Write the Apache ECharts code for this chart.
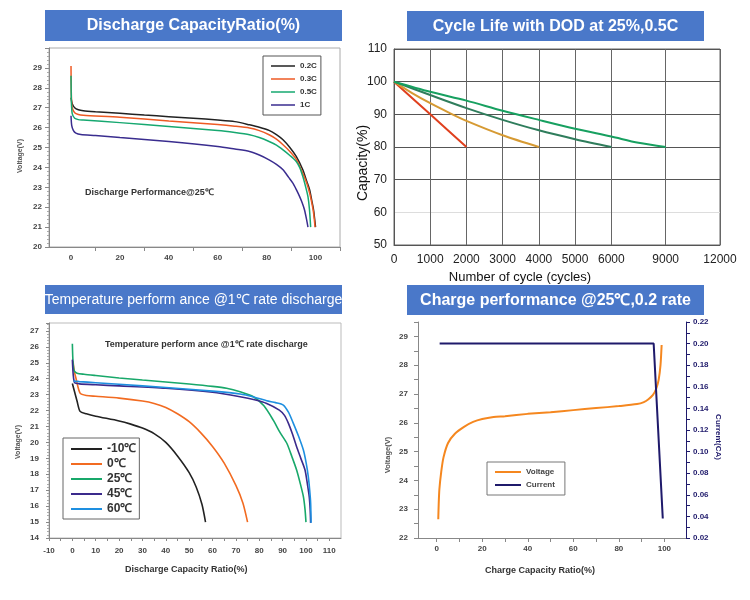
<!DOCTYPE html>
<html><head><meta charset="utf-8">
<script src="https://cdn.jsdelivr.net/npm/echarts@6/dist/echarts.min.js"></script>
<style>html,body{margin:0;padding:0;background:#fff}#c{width:750px;height:600px}</style>
</head><body><div id="c"></div>
<script>
// ---------- Panel 1: Discharge capacity ratio ----------
const dischargeRates = ['0.2C', '0.3C', '0.5C', '1C'];
const dis02 = [[0,27.5],[0.5,27.2],[1.5,27.0],[3,26.9],[5,26.85],[10,26.8],[20,26.72],[30,26.63],[40,26.55],[50,26.47],[60,26.38],[67,26.3],[73,26.14],[77,26.02],[81,25.86],[84,25.65],[86.7,25.39],[89.5,25.0],[92.1,24.55],[94.8,23.88],[96.4,23.3],[97.6,22.87],[98.5,22.3],[99.2,21.86],[100,21.0]];
const dis03 = [[0,29.1],[0.15,27.6],[0.5,27.0],[1.5,26.75],[3,26.66],[5,26.62],[20,26.52],[40,26.33],[60,26.15],[67,26.07],[73,25.98],[77,25.85],[81,25.64],[84,25.42],[86.7,25.14],[89.5,24.8],[92.1,24.41],[94.8,23.7],[96.4,23.2],[97.6,22.7],[98.5,22.2],[99.2,21.7],[99.8,21.0]];
const dis05 = [[0,28.6],[0.15,27.3],[0.5,26.7],[1.5,26.47],[3,26.4],[5,26.38],[20,26.25],[40,26.05],[60,25.85],[67,25.75],[73,25.64],[77,25.5],[81,25.3],[84,25.12],[86.7,24.88],[89.5,24.6],[92.1,24.3],[93.5,24.0],[94.8,23.54],[96.0,23.0],[96.9,22.53],[97.5,21.9],[98.0,21.0]];
const dis1 = [[0,26.6],[0.3,26.1],[1,25.85],[2,25.72],[4,25.65],[10,25.6],[20,25.5],[40,25.3],[60,25.05],[67,24.92],[73,24.8],[77,24.62],[81,24.38],[84,24.15],[86.7,23.88],[89,23.5],[90.8,23.2],[92.2,22.87],[93.5,22.53],[94.6,22.2],[95.5,21.86],[96.3,21.4],[96.9,21.0]];
const p1XLabels = [0, 20, 40, 60, 80, 100];
const p1XTicks = [10, 30, 50, 70, 90, 110];

// ---------- Panel 2: Cycle life ----------
const cycleTickLabels = [0, 1000, 2000, 3000, 4000, 5000, 6000, 9000, 12000];
const cycleA = [[0,100],[1000,90],[2000,80]];
const cycleB = [[0,100],[500,96.5],[1000,93.4],[1500,90.6],[2000,88],[3000,83.6],[4000,80]];
const cycleC = [[0,100],[1000,95.9],[2000,91.9],[3000,88.3],[4000,85.1],[5000,82.4],[6000,80]];
const cycleD = [[0,100],[1000,96.9],[2000,94.2],[3000,91.1],[4000,88.3],[5000,85.6],[6000,83.2],[7500,81.3],[9000,80]];

// ---------- Panel 3: Temperature performance ----------
const temps = ['-10℃', '0℃', '25℃', '45℃', '60℃'];
const tM10 = [[0,23.7],[1,23.15],[2,22.6],[3.3,21.95],[6,21.8],[10,21.65],[20,21.35],[25,21.15],[30,20.9],[35,20.55],[40,20.0],[45,19.15],[50,18.1],[53,17.2],[55.5,16.1],[57,15.0]];
const t0 = [[0.3,25.1],[0.8,24.5],[1.6,24.0],[3.3,23.1],[6,22.95],[10,22.9],[20,22.78],[30,22.6],[35,22.45],[40,22.2],[45,21.8],[50,21.3],[55,20.6],[60,19.75],[65,18.7],[70,17.3],[73,16.2],[75,15.0]];
const t25 = [[0,26.2],[0.3,25.0],[0.8,24.5],[2,24.35],[5,24.28],[10,24.2],[20,24.05],[30,23.92],[40,23.8],[50,23.67],[60,23.52],[66,23.4],[71.8,23.18],[77.5,22.87],[82,22.3],[86,21.4],[89,20.6],[91.8,19.95],[94,19.1],[96,18.27],[97.6,17.4],[98.9,16.6],[99.6,15.8],[100,15.0]];
const t45 = [[0,25.2],[0.4,24.2],[1,23.75],[3,23.68],[10,23.62],[20,23.55],[40,23.4],[60,23.15],[71.8,22.87],[78,22.68],[83.2,22.45],[88.6,22.03],[90.8,21.7],[92.5,21.2],[94.3,20.5],[96,19.73],[97.8,19.0],[99.6,18.27],[100.6,17.4],[101.4,16.6],[101.8,15.8],[102,14.95]];
const t60 = [[0.5,23.85],[3,23.82],[10,23.75],[20,23.65],[40,23.45],[60,23.22],[71.8,23.04],[78,22.84],[83.2,22.62],[87,22.5],[90.3,22.35],[92.5,21.9],[94.6,21.2],[96.8,20.4],[98.9,19.52],[100.1,18.7],[101,17.85],[101.6,17.0],[102,16.2],[102.2,14.95]];

// ---------- Panel 4: Charge performance ----------
const chargeNames = ['Voltage', 'Current'];
const chgVoltage = [[0.7,22.65],[0.9,23.2],[1.2,23.7],[2,24.3],[3,24.8],[5,25.3],[8,25.62],[12,25.86],[16,26.03],[20,26.13],[25,26.2],[30,26.23],[40,26.31],[50,26.37],[60,26.44],[70,26.51],[80,26.58],[88,26.65],[91,26.72],[93,26.82],[95,26.97],[96.5,27.2],[97.5,27.5],[98.3,28.0],[98.8,28.7]];
const chgCurrent = [[1.3,0.2],[95.3,0.2],[99.3,0.038]];
const p4XLabels = [0, 20, 40, 60, 80, 100];
const p4XTicks = [0, 10, 20, 30, 40, 50, 60, 70, 80, 90, 100];

// ---------- helpers ----------
const BANNER = '#4a78c9';
const FONT = '"Liberation Sans", Arial, sans-serif';
const NARROW = '"Liberation Sans Narrow", "Liberation Sans", Arial, sans-serif';
// piecewise cycle scale of the reference axis (9000 and 12000 are compressed)
const cyclePos = c => c <= 6000 ? c : 6000 + (c - 6000) / 2;
const posCycle = p => p <= 6000 ? p : 6000 + (p - 6000) * 2;
const toPos = arr => arr.map(d => [cyclePos(d[0]), d[1]]);

function ser(name, data, color, xi, yi, w, smooth) {
  return { type: 'line', name, data, xAxisIndex: xi, yAxisIndex: yi, symbol: 'none',
    smooth: smooth === undefined ? 0.25 : smooth, lineStyle: { color, width: w || 1.6 },
    itemStyle: { color }, silent: true, animation: false };
}
const smallLbl = { fontSize: 8, color: '#444', fontFamily: NARROW, fontWeight: 'bold' };
const grayAxis = { show: true, onZero: false, lineStyle: { color: '#888', width: 1 } };

function txt(x, y, text, size, opts) {
  opts = opts || {};
  return { type: 'text', x, y, rotation: opts.rot || 0, silent: true, z: 100,
    style: { text, fill: opts.color || '#333', font: (opts.weight || 'bold') + ' ' + size + 'px ' + (opts.family || NARROW),
      textAlign: opts.align || 'center', textVerticalAlign: 'middle' } };
}
function banner(x, y, w, h, text, size, weight) {
  return [
    { type: 'rect', shape: { x, y, width: w, height: h }, style: { fill: BANNER }, silent: true, z: 90 },
    txt(x + w / 2, y + h / 2 + 0.5, text, size, { color: '#fff', family: FONT, weight: weight || 'bold' })
  ];
}

const option = {
  backgroundColor: '#fff',
  animation: false,
  grid: [
    { left: 49, top: 48, width: 291, height: 199, show: true, borderColor: '#aaa', borderWidth: 1 },
    { left: 394, top: 49, width: 326, height: 196, show: true, borderColor: '#666', borderWidth: 1 },
    { left: 49, top: 323, width: 292, height: 215, show: true, borderColor: '#bbb', borderWidth: 1 },
    { left: 418, top: 322, width: 268, height: 216 }
  ],
  xAxis: [
    { gridIndex: 0, type: 'value', min: -9, max: 110, axisLine: grayAxis,
      axisTick: { customValues: p1XTicks, length: 4, lineStyle: { color: '#888' } },
      axisLabel: Object.assign({ customValues: p1XLabels, margin: 7 }, smallLbl), splitLine: { show: false } },
    { gridIndex: 1, type: 'value', min: 0, max: cyclePos(12000),
      axisLine: { onZero: false, lineStyle: { color: '#555' } },
      axisTick: { show: false, customValues: cycleTickLabels.map(cyclePos) },
      axisLabel: { customValues: cycleTickLabels.map(cyclePos), formatter: v => String(Math.round(posCycle(v))),
        fontSize: 12, color: '#222', fontFamily: FONT, margin: 9 },
      splitLine: { show: true, lineStyle: { color: '#666', width: 1 } } },
    { gridIndex: 2, type: 'value', min: -10, max: 115,
      axisLine: grayAxis,
      axisTick: { customValues: [-10,-5,0,5,10,15,20,25,30,35,40,45,50,55,60,65,70,75,80,85,90,95,100,105,110], length: 3, lineStyle: { color: '#888' } },
      axisLabel: Object.assign({ customValues: [-10,0,10,20,30,40,50,60,70,80,90,100,110], margin: 9 }, smallLbl),
      splitLine: { show: false } },
    { gridIndex: 3, type: 'value', min: -8.2, max: 109.5, axisLine: grayAxis,
      axisTick: { customValues: p4XTicks, length: 4, lineStyle: { color: '#888' } },
      axisLabel: Object.assign({ customValues: p4XLabels, margin: 7 }, smallLbl), splitLine: { show: false } }
  ],
  yAxis: [
    { gridIndex: 0, type: 'value', min: 20, max: 30, interval: 1, axisLine: grayAxis,
      axisTick: { show: true, length: 4, lineStyle: { color: '#888' } },
      minorTick: { show: true, splitNumber: 5, length: 2, lineStyle: { color: '#aaa' } },
      axisLabel: Object.assign({ margin: 7, formatter: v => v >= 30 ? '' : String(v) }, smallLbl), splitLine: { show: false } },
    { gridIndex: 1, type: 'value', min: 50, max: 110, interval: 10,
      axisLine: { show: true, onZero: false, lineStyle: { color: '#555' } }, axisTick: { show: false },
      axisLabel: { fontSize: 12, color: '#222', fontFamily: FONT, margin: 7 },
      splitLine: { show: true, lineStyle: { color: ['#555', '#ddd', '#555', '#555', '#555', '#555', '#555'], width: 1 } } },
    { gridIndex: 2, type: 'value', min: 14, max: 27.5, interval: 1, axisLine: grayAxis,
      axisTick: { show: true, length: 3, lineStyle: { color: '#888' } },
      minorTick: { show: true, splitNumber: 5, length: 2, lineStyle: { color: '#aaa' } },
      axisLabel: Object.assign({ margin: 10, formatter: v => v > 27 ? '' : String(v) }, smallLbl), splitLine: { show: false } },
    { gridIndex: 3, type: 'value', min: 22, max: 29.5, interval: 1, axisLine: grayAxis,
      axisTick: { show: true, length: 4, lineStyle: { color: '#888' } },
      minorTick: { show: true, splitNumber: 2, length: 4, lineStyle: { color: '#888' } },
      axisLabel: Object.assign({ margin: 10, formatter: v => v > 29 ? '' : String(v) }, smallLbl), splitLine: { show: false } },
    { gridIndex: 3, type: 'value', position: 'right', min: 0.02, max: 0.22, interval: 0.02,
      axisLine: { show: true, onZero: false, lineStyle: { color: '#1f1a6b', width: 1 } },
      axisTick: { show: true, length: 4, lineStyle: { color: '#1f1a6b' } },
      minorTick: { show: true, splitNumber: 2, length: 4, lineStyle: { color: '#1f1a6b' } },
      axisLabel: { margin: 7, fontSize: 8, fontWeight: 'bold', color: '#1f1a6b', fontFamily: NARROW, formatter: v => v.toFixed(2) },
      splitLine: { show: false } }
  ],
  legend: [
    { data: dischargeRates, left: 263, top: 56, orient: 'vertical', selectedMode: false, icon: 'rect',
      borderColor: '#555', borderWidth: 1, padding: [5, 4, 5, 8], itemGap: 3, itemWidth: 24, itemHeight: 1.5,
      textStyle: { fontSize: 8, fontWeight: 'bold', color: '#333', fontFamily: NARROW, lineHeight: 10 } },
    { data: temps, left: 63, top: 438, orient: 'vertical', selectedMode: false, icon: 'rect',
      borderColor: '#666', borderWidth: 1, padding: [4, 3, 3, 8], itemGap: 1, itemWidth: 31, itemHeight: 2,
      textStyle: { fontSize: 12, fontWeight: 'bold', color: '#333', fontFamily: FONT, lineHeight: 14 } },
    { data: chargeNames, left: 487, top: 462, orient: 'vertical', selectedMode: false, icon: 'rect',
      borderColor: '#777', borderWidth: 1, padding: [5, 10, 5, 8], itemGap: 3, itemWidth: 26, itemHeight: 2,
      textStyle: { fontSize: 8, fontWeight: 'bold', color: '#444', fontFamily: NARROW, lineHeight: 10 } }
  ],
  series: [
    ser('0.2C', dis02, '#222222', 0, 0, 1.5),
    ser('0.3C', dis03, '#ee5a24', 0, 0, 1.5),
    ser('0.5C', dis05, '#16a870', 0, 0, 1.5),
    ser('1C', dis1, '#3a2d8f', 0, 0, 1.5),
    ser('2000 cycles', toPos(cycleA), '#e0401e', 1, 1, 2, 0.3),
    ser('4000 cycles', toPos(cycleB), '#d69a33', 1, 1, 2, 0.3),
    ser('6000 cycles', toPos(cycleC), '#2f7d5c', 1, 1, 2, 0.3),
    ser('9000 cycles', toPos(cycleD), '#17a060', 1, 1, 2, 0.3),
    ser('-10℃', tM10, '#222222', 2, 2, 1.6),
    ser('0℃', t0, '#f26b21', 2, 2, 1.6),
    ser('25℃', t25, '#18a86a', 2, 2, 1.6),
    ser('45℃', t45, '#3b2a8c', 2, 2, 1.6),
    ser('60℃', t60, '#1e8fe0', 2, 2, 1.6),
    ser('Voltage', chgVoltage, '#f5871f', 3, 3, 2),
    ser('Current', chgCurrent, '#1f1a6b', 3, 4, 2, false)
  ],
  graphic: [].concat(
    banner(45, 10, 297, 31, 'Discharge CapacityRatio(%)', 16),
    banner(407, 11, 297, 30, 'Cycle Life with DOD at 25%,0.5C', 16),
    banner(45, 285, 297, 29, 'Temperature perform ance @1℃ rate discharge', 14, 'normal'),
    banner(407, 285, 297, 30, 'Charge performance @25℃,0.2 rate', 16),
    [
      txt(20, 156, 'Voltage(V)', 7, { rot: Math.PI / 2, color: '#555' }),
      txt(85, 193, 'Discharge Performance@25℃', 9, { align: 'left', color: '#333' }),
      txt(363, 163, 'Capacity(%)', 14, { rot: Math.PI / 2, color: '#111', weight: 'normal', family: FONT }),
      txt(520, 277, 'Number of cycle (cycles)', 13, { color: '#111', weight: 'normal', family: FONT }),
      txt(18, 442, 'Voltage(V)', 7, { rot: Math.PI / 2, color: '#555' }),
      txt(105, 345, 'Temperature perform ance @1℃ rate discharge', 9, { align: 'left', color: '#333' }),
      txt(125, 570, 'Discharge Capacity Ratio(%)', 9, { align: 'left', color: '#333' }),
      txt(388, 455, 'Voltage(V)', 7.5, { rot: Math.PI / 2, color: '#555' }),
      txt(718, 437, 'Current(CA)', 8, { rot: -Math.PI / 2, color: '#1f1a6b' }),
      txt(540, 571, 'Charge Capacity Ratio(%)', 9, { color: '#333' })
    ]
  )
};
const chart = echarts.init(document.getElementById('c'));
chart.setOption(option);
</script>
</body></html>
